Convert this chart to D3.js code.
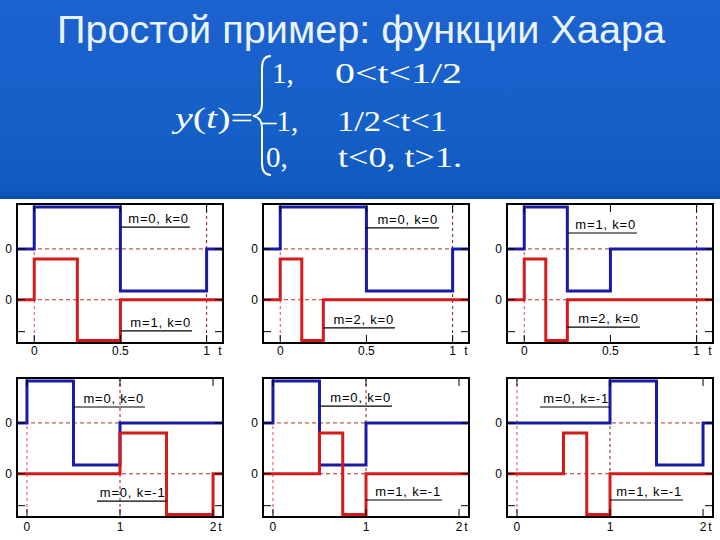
<!DOCTYPE html>
<html>
<head>
<meta charset="utf-8">
<script src="https://cdn.jsdelivr.net/npm/d3@7"></script>
<style>
  html, body { margin: 0; padding: 0; background: #fff; }
  svg { display: block; }
</style>
</head>
<body>
<div id="chart"></div>
<script>
// Haar function panels: step breakpoints [t, value], value holds until next t
const blueSteps = [
  [[0, 1], [0.5, -1], [1, 0]],
  [[0, 1], [0.5, -1], [1, 0]],
  [[0, 1], [0.25, -1], [0.5, 0]],
  [[0, 1], [0.5, -1], [1, 0]],
  [[0, 1], [0.5, -1], [1, 0]],
  [[1, 1], [1.5, -1], [2, 0]]
];
const redSteps = [
  [[0, 1], [0.25, -1], [0.5, 0]],
  [[0, 1], [0.125, -1], [0.25, 0]],
  [[0, 1], [0.125, -1], [0.25, 0]],
  [[1, 1], [1.5, -1], [2, 0]],
  [[0.5, 1], [0.75, -1], [1, 0]],
  [[0.5, 1], [0.75, -1], [1, 0]]
];
const blueLabels = ['m=0, k=0', 'm=0, k=0', 'm=1, k=0', 'm=0, k=0', 'm=0, k=0', 'm=0, k=-1'];
const redLabels = ['m=1, k=0', 'm=2, k=0', 'm=2, k=0', 'm=0, k=-1', 'm=1, k=-1', 'm=1, k=-1'];
const xTickValues = [[0, 0.5, 1], [0, 0.5, 1], [0, 0.5, 1], [0, 1, 2], [0, 1, 2], [0, 1, 2]];
const xTickLabels = [['0', '0.5', '1'], ['0', '0.5', '1'], ['0', '0.5', '1'], ['0', '1', '2'], ['0', '1', '2'], ['0', '1', '2']];
const yTickLabels = ['0', '0'];

// layout (not data): underline anchors for the labels [tA, tB, level]
const blueLabelPos = [[0.5, 0.903, 0.52], [0.5, 0.921, 0.5], [0.25, 0.654, 0.38], [0.5, 1.269, 0.38], [0.5, 1.279, 0.4], [0.248, 1.0, 0.38]];
const redLabelPos = [[0.5, 0.915, -1.95], [0.25, 0.666, -1.88], [0.25, 0.671, -1.86], [0.753, 1.5, -1.86], [1.0, 1.817, -1.835], [1.0, 1.784, -1.835]];

const W = 720, H = 540;
const boxW = 206, boxH = 139;
const lefts = [17, 263, 507];
const tops = [204, 378];
const redOffset = -1.21, redAmp = 0.97;

const svg = d3.select('#chart').append('svg')
  .attr('width', W).attr('height', H);

const defs = svg.append('defs');
const grad = defs.append('linearGradient').attr('id', 'hdr')
  .attr('x1', 0).attr('y1', 0).attr('x2', 0).attr('y2', 1);
grad.append('stop').attr('offset', '0%').attr('stop-color', '#1c62cf');
grad.append('stop').attr('offset', '60%').attr('stop-color', '#1660c9');
grad.append('stop').attr('offset', '96%').attr('stop-color', '#0f59c0');
grad.append('stop').attr('offset', '100%').attr('stop-color', '#0a4ca8');

svg.append('rect').attr('width', W).attr('height', H).attr('fill', '#fff');
svg.append('rect').attr('width', W).attr('height', 199).attr('fill', 'url(#hdr)');

svg.append('text')
  .attr('x', 57).attr('y', 43)
  .attr('textLength', 608).attr('lengthAdjust', 'spacingAndGlyphs')
  .style('font-family', '"Liberation Sans", Arial, sans-serif')
  .style('font-size', '38px')
  .attr('fill', '#eaf4ff')
  .text('Простой пример: функции Хаара');

// formula
const formula = svg.append('g')
  .attr('fill', '#fff')
  .style('font-family', '"Liberation Serif", "Times New Roman", serif')
  .style('font-size', '29px');

const lhs = formula.append('text').attr('x', 175).attr('y', 128)
  .attr('textLength', 78).attr('lengthAdjust', 'spacingAndGlyphs');
lhs.append('tspan').style('font-style', 'italic').text('y');
lhs.append('tspan').text('(');
lhs.append('tspan').style('font-style', 'italic').text('t');
lhs.append('tspan').text(')=');

formula.append('path')
  .attr('d', 'M271,56 Q262,56 262,68 L262,104 Q262,115 253,116 Q262,117 262,128 L262,163 Q262,175 271,175')
  .attr('fill', 'none').attr('stroke', '#fff').attr('stroke-width', 2);

const rows = [
  {v: '1,', vx: 272, c: '0<t<1/2', cx: 335, cw: 127, y: 83},
  {v: '\u20131,', vx: 262, c: '1/2<t<1', cx: 337, cw: 110, y: 131},
  {v: '0,', vx: 266, c: 't<0, t>1.', cx: 338, cw: 124, y: 167}
];
rows.forEach(r => {
  formula.append('text').attr('x', r.vx).attr('y', r.y).text(r.v);
  formula.append('text').attr('x', r.cx).attr('y', r.y)
    .attr('textLength', r.cw).attr('lengthAdjust', 'spacingAndGlyphs')
    .text(r.c);
});

// panels
for (let i = 0; i < 6; i++) {
  const left = lefts[i % 3], top = tops[Math.floor(i / 3)];
  const xMax = xTickValues[i][2];
  const domain = xMax === 1 ? [-0.1, 1.095] : [-0.107, 2.107];

  const x = d3.scaleLinear().domain(domain).range([left, left + boxW]);
  const y = d3.scaleLinear().domain([-2.24, 1.07]).range([top + boxH, top]);

  const g = svg.append('g');
  const clipId = 'clip' + i;
  defs.append('clipPath').attr('id', clipId)
    .append('rect').attr('x', left).attr('y', top).attr('width', boxW).attr('height', boxH);

  const inner = g.append('g').attr('clip-path', `url(#${clipId})`);

  // dashed reference lines
  [0, redOffset].forEach(lv => {
    inner.append('line')
      .attr('x1', left).attr('x2', left + boxW)
      .attr('y1', y(lv)).attr('y2', y(lv))
      .attr('stroke', '#a83030').attr('stroke-width', 1)
      .attr('stroke-dasharray', '4,3');
  });
  [[0, '#e04848'], [1, '#7a2020']].forEach(([t, c]) => {
    inner.append('line')
      .attr('x1', x(t)).attr('x2', x(t))
      .attr('y1', top).attr('y2', top + boxH)
      .attr('stroke', c).attr('stroke-width', 1)
      .attr('stroke-dasharray', '3,3');
  });

  const line = d3.line().curve(d3.curveStepAfter)
    .x(d => x(d[0])).y(d => y(d[1]));

  const bluePts = [[domain[0], 0], ...blueSteps[i], [domain[1], 0]];
  const redPts = [[domain[0], 0], ...redSteps[i], [domain[1], 0]]
    .map(d => [d[0], d[1] * redAmp + redOffset]);

  inner.append('path').datum(bluePts).attr('d', line)
    .attr('fill', 'none').attr('stroke', '#1a1aa8').attr('stroke-width', 3);
  inner.append('path').datum(redPts).attr('d', line)
    .attr('fill', 'none').attr('stroke', '#d41a1a').attr('stroke-width', 3);

  // ticks on all sides
  xTickValues[i].forEach(t => {
    g.append('line').attr('x1', x(t)).attr('x2', x(t))
      .attr('y1', top).attr('y2', top + 8).attr('stroke', '#000');
    g.append('line').attr('x1', x(t)).attr('x2', x(t))
      .attr('y1', top + boxH).attr('y2', top + boxH - 8).attr('stroke', '#000');
  });
  [0, redOffset, -1.97].forEach(lv => {
    g.append('line').attr('x1', left).attr('x2', left + 8)
      .attr('y1', y(lv)).attr('y2', y(lv)).attr('stroke', '#000');
    g.append('line').attr('x1', left + boxW).attr('x2', left + boxW - 8)
      .attr('y1', y(lv)).attr('y2', y(lv)).attr('stroke', '#000');
  });

  g.append('rect')
    .attr('x', left).attr('y', top).attr('width', boxW).attr('height', boxH)
    .attr('fill', 'none').attr('stroke', '#000').attr('stroke-width', 2);

  // tick labels
  const tickFont = '"Liberation Sans", Arial, sans-serif';
  xTickValues[i].forEach((t, j) => {
    g.append('text').attr('x', x(t)).attr('y', top + boxH + (i < 3 ? 12 : 14))
      .attr('text-anchor', 'middle')
      .style('font-family', tickFont).style('font-size', '12px')
      .text(xTickLabels[i][j]);
  });
  g.append('text').attr('x', left + boxW - 3).attr('y', top + boxH + (i < 3 ? 12 : 14))
    .attr('text-anchor', 'middle')
    .style('font-family', tickFont).style('font-size', '12px')
    .text('t');
  [0, redOffset].forEach((lv, j) => {
    g.append('text').attr('x', left - 5).attr('y', y(lv) + 4)
      .attr('text-anchor', 'end')
      .style('font-family', tickFont).style('font-size', '12px')
      .text(yTickLabels[j]);
  });

  // labels with underline
  [[blueLabels[i], blueLabelPos[i]], [redLabels[i], redLabelPos[i]]].forEach(([txt, p]) => {
    const ly = y(p[2]);
    g.append('line')
      .attr('x1', x(p[0])).attr('x2', x(p[1]))
      .attr('y1', ly).attr('y2', ly)
      .attr('stroke', '#000').attr('stroke-width', 1.2);
    g.append('text')
      .attr('x', x(p[1]) - 1).attr('y', ly - 4)
      .attr('text-anchor', 'end')
      .style('font-family', tickFont).style('font-size', '13px')
      .style('letter-spacing', '0.8px')
      .text(txt);
  });
}
</script>
</body>
</html>
